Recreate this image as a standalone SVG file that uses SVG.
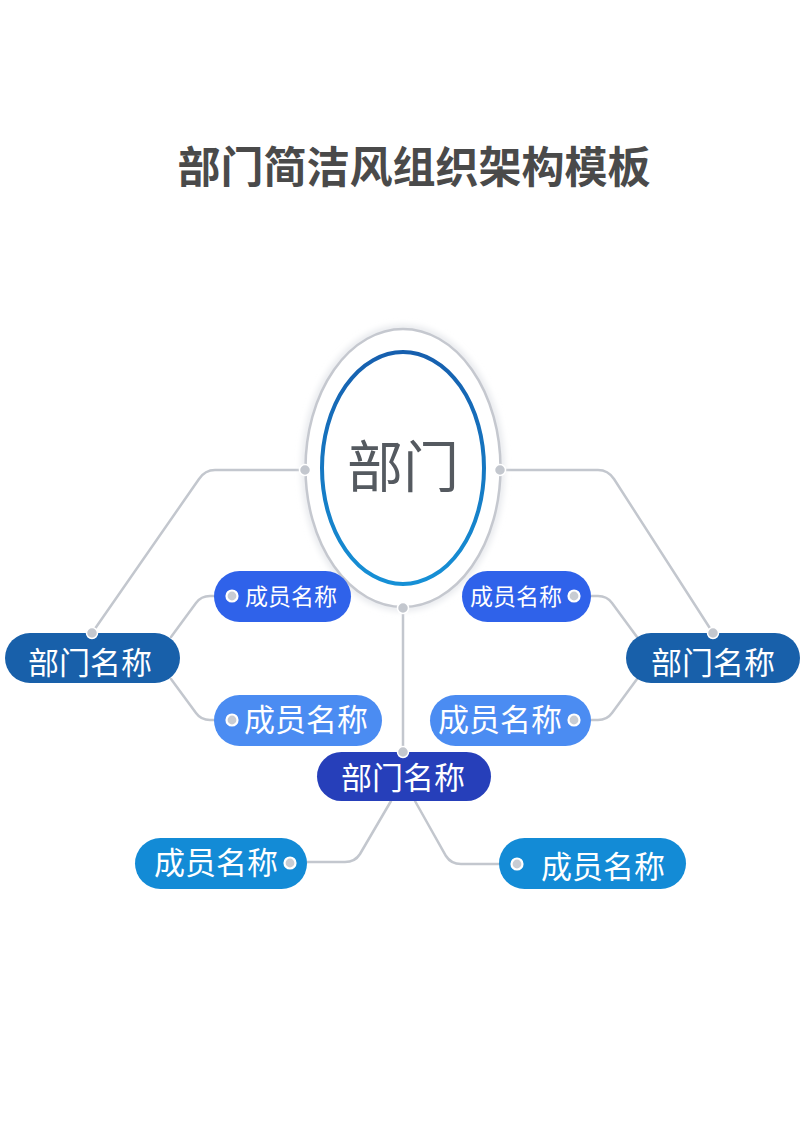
<svg xmlns="http://www.w3.org/2000/svg" width="800" height="1131" viewBox="0 0 800 1131">
<defs>
<linearGradient id="ring" x1="0" y1="0" x2="0" y2="1">
<stop offset="0" stop-color="#165fae"/>
<stop offset="1" stop-color="#1690d6"/>
</linearGradient>
<filter id="glow" x="-20%" y="-20%" width="140%" height="140%">
<feGaussianBlur stdDeviation="3"/>
</filter>
</defs>
<style>
.t{font-family:"Noto Sans CJK SC","Noto Sans",sans-serif;fill:#fff;text-anchor:middle}
.c{fill:none;stroke:#c3c7ce;stroke-width:2.5;stroke-linecap:round}
.dot{fill:#c3c7ce;stroke:#fff;stroke-width:1.5}
.md{fill:#c8ccd3;stroke:#fff;stroke-width:2.2}
.dept{fill:#1860aa}
</style>
<rect width="800" height="1131" fill="#fff"/>
<text x="414" y="183" font-family="Noto Sans CJK SC, sans-serif" font-weight="700" font-size="43" fill="#4a4a4a" text-anchor="middle">部门简洁风组织架构模板</text>

<g id="connectors">
<path class="c" d="M305,470 H215 Q205,470 199,479 L92,633"/>
<path class="c" d="M500,470 H598 Q608,470 614,479 L713,633"/>
<path class="c" d="M403,608 V752"/>
<path class="c" d="M171,637 L196,603 Q201,596 210,596 H216"/>
<path class="c" d="M171,679 L196,713 Q201,720 210,720 H216"/>
<path class="c" d="M637,637 L612,603 Q607,596 598,596 H590"/>
<path class="c" d="M637,679 L612,713 Q607,720 598,720 H590"/>
<path class="c" d="M391,801 L360,854 Q355,862 345,862 H306"/>
<path class="c" d="M415,801 L446,856 Q451,864 461,864 H500"/>
</g>

<g id="center">
<ellipse cx="403" cy="468" rx="97.5" ry="139" fill="none" stroke="#e6e8ec" stroke-width="8" filter="url(#glow)"/>
<ellipse cx="403" cy="468" rx="97.5" ry="139" fill="#fff" stroke="#c5c8cf" stroke-width="2.5"/>
<ellipse cx="403" cy="468" rx="81" ry="116" fill="#fff" stroke="url(#ring)" stroke-width="4"/>
<text x="403" y="487" font-family="Noto Sans CJK SC, sans-serif" font-size="56" fill="#555a60" text-anchor="middle">部门</text>
<circle class="dot" cx="305" cy="470" r="5.5"/>
<circle class="dot" cx="500" cy="470" r="5.5"/>
<circle class="dot" cx="403" cy="608" r="5.5"/>
</g>

<g id="dept-left">
<rect class="dept" x="5" y="633" width="175" height="50" rx="25"/>
<circle class="dot" cx="92" cy="633" r="5.5"/>
<text class="t" x="90" y="674" font-size="31">部门名称</text>
</g>
<g id="dept-right">
<rect class="dept" x="626" y="633" width="174" height="50" rx="25"/>
<circle class="dot" cx="713" cy="633" r="5.5"/>
<text class="t" x="713" y="674" font-size="31">部门名称</text>
</g>
<g id="dept-bottom">
<rect x="317" y="752" width="174" height="49" rx="24.5" fill="#263fba"/>
<circle class="dot" cx="403" cy="752" r="5.5"/>
<text class="t" x="403" y="789" font-size="31">部门名称</text>
</g>

<g id="member-lt">
<rect x="214" y="571" width="137" height="51" rx="25.5" fill="#2f62ea"/>
<circle class="md" cx="232" cy="596" r="5.5"/>
<text class="t" x="291" y="605" font-size="23">成员名称</text>
</g>
<g id="member-lb">
<rect x="214" y="695" width="168" height="51" rx="25.5" fill="#4b8cf2"/>
<circle class="md" cx="232" cy="720" r="5.5"/>
<text class="t" x="306" y="731" font-size="31">成员名称</text>
</g>
<g id="member-rt">
<rect x="462" y="571" width="129" height="51" rx="25.5" fill="#2f62ea"/>
<circle class="md" cx="574" cy="596" r="5.5"/>
<text class="t" x="516" y="605" font-size="23">成员名称</text>
</g>
<g id="member-rb">
<rect x="430" y="695" width="161" height="51" rx="25.5" fill="#4b8cf2"/>
<circle class="md" cx="574" cy="720" r="5.5"/>
<text class="t" x="500" y="731" font-size="31">成员名称</text>
</g>
<g id="member-bl">
<rect x="135" y="838" width="172" height="51" rx="25.5" fill="#138bd6"/>
<circle class="md" cx="290" cy="863" r="5.5"/>
<text class="t" x="216" y="874" font-size="31">成员名称</text>
</g>
<g id="member-br">
<rect x="499" y="838" width="187" height="51" rx="25.5" fill="#138bd6"/>
<circle class="md" cx="517" cy="864" r="5.5"/>
<text class="t" x="603" y="878" font-size="31">成员名称</text>
</g>
</svg>
